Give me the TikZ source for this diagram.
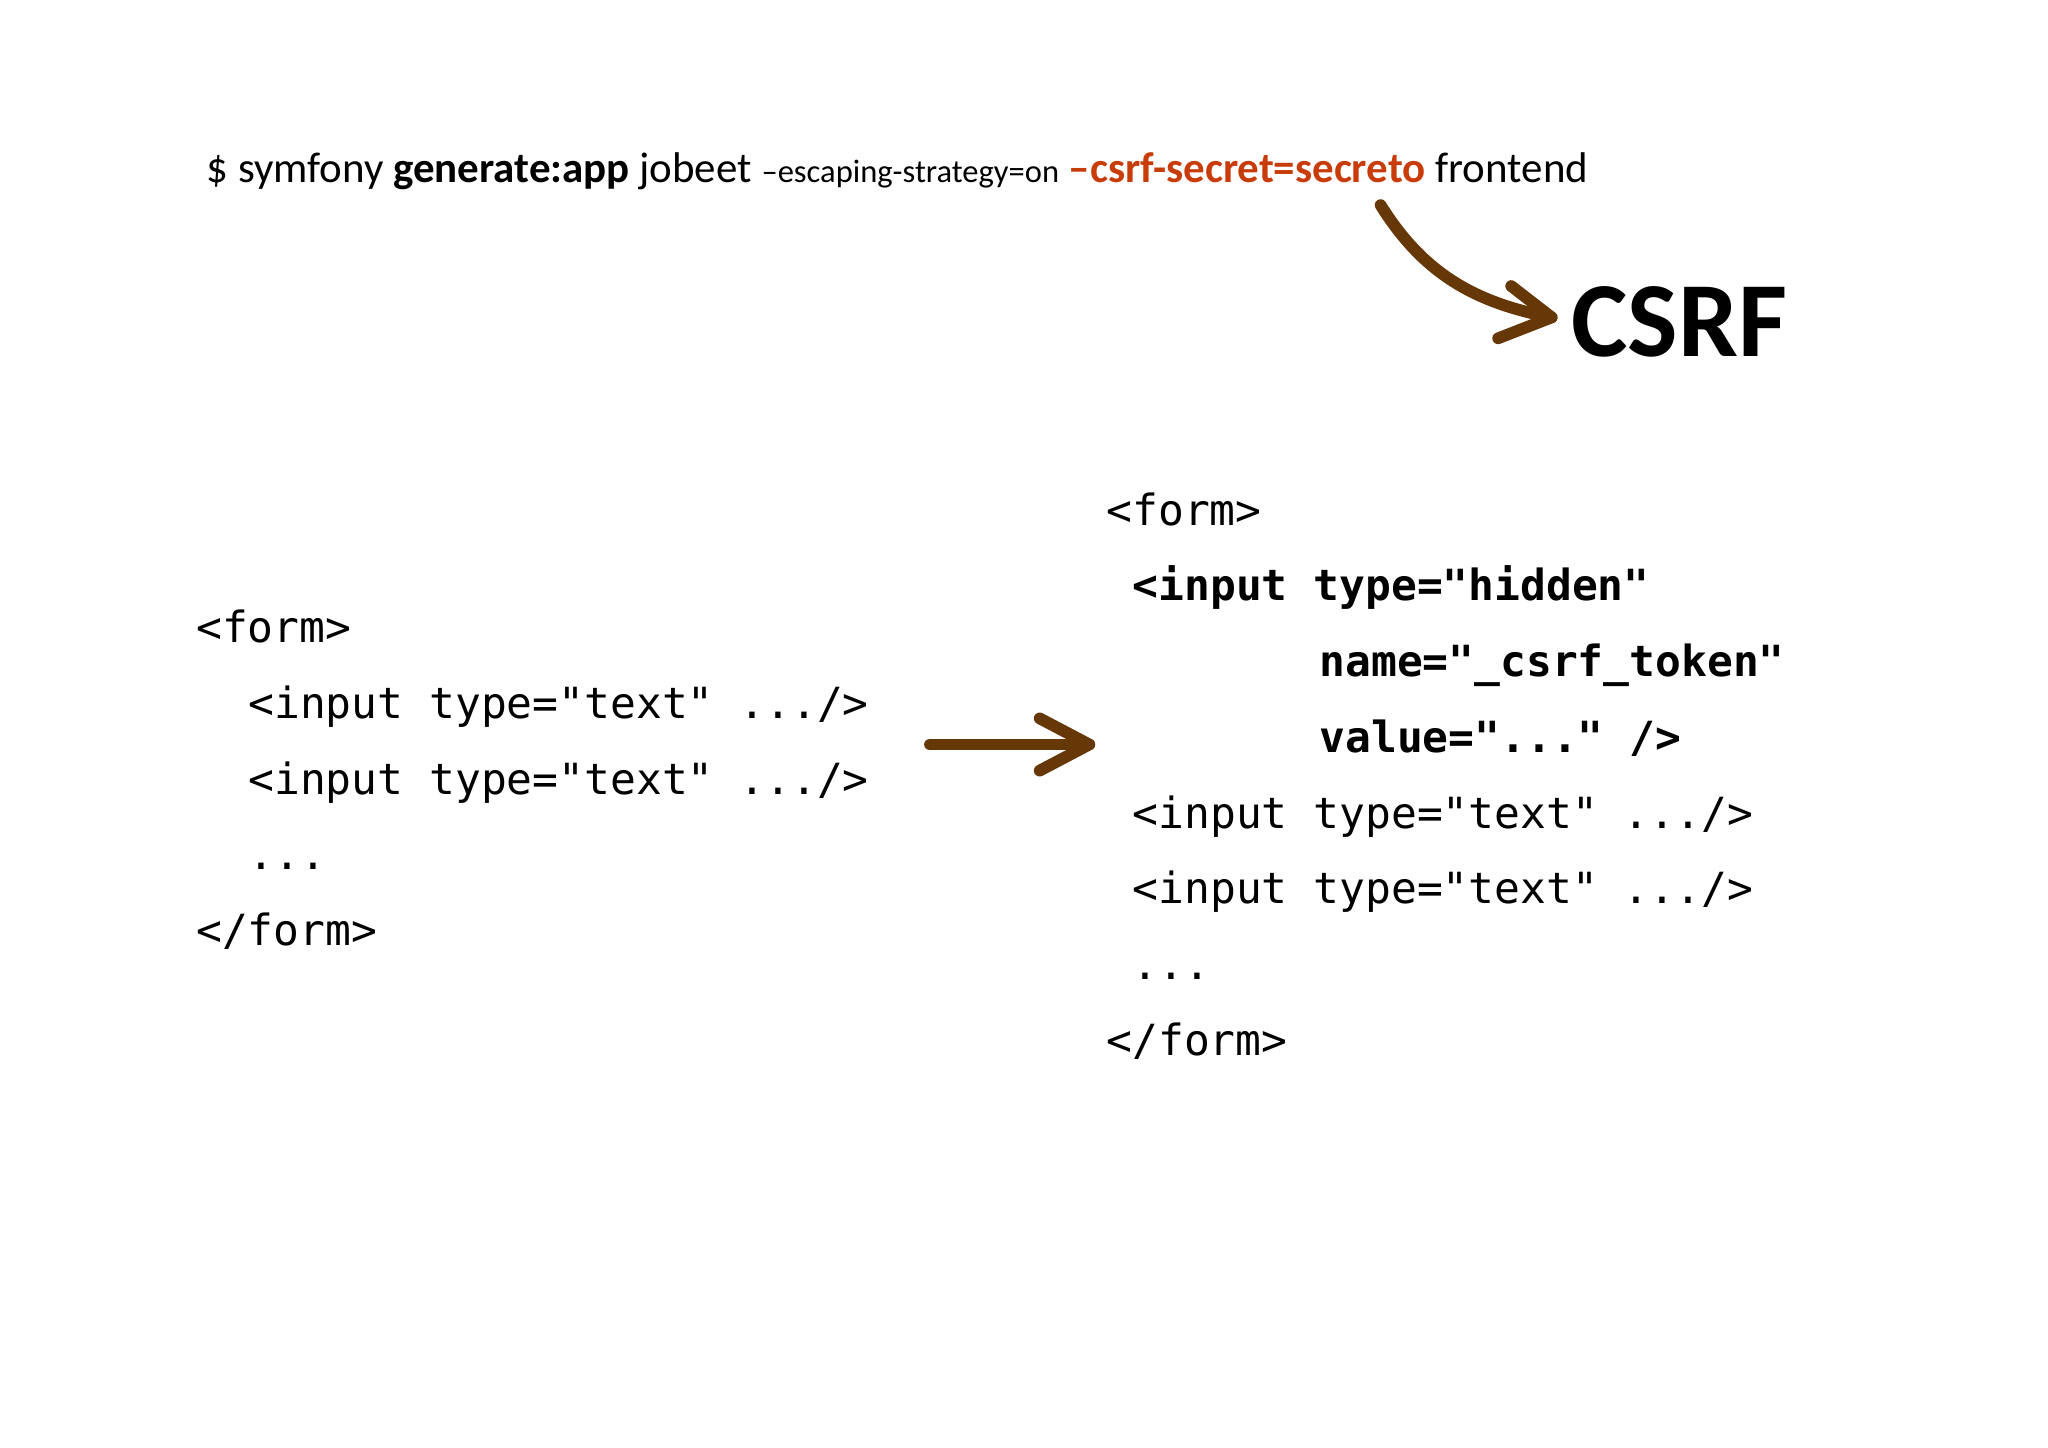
\documentclass[tikz,border=0pt]{standalone}
\usepackage{fontspec}
\setmainfont{Carlito}
\setmonofont{DejaVu Sans Mono}
\usetikzlibrary{arrows.meta}
\definecolor{brn}{RGB}{102,56,8}
\definecolor{org}{RGB}{200,60,10}
\begin{document}
\begin{tikzpicture}[x=1bp,y=-1bp,
  cmd/.style={anchor=base west,inner sep=0pt,font=\fontsize{33}{33}\selectfont},
  code/.style={anchor=base west,inner sep=0pt,font=\fontsize{33}{33}\ttfamily},
  arr/.style={draw=brn,line width=9bp,line cap=round,line join=round}]
\useasboundingbox (0,0) rectangle (1568,1108);
\node[cmd] (cmd) at (158,140) {\$ symfony \textbf{generate:app} jobeet {\fontsize{25}{25}\selectfont --escaping-strategy=on} \textcolor{org}{\textbf{--csrf-secret=secreto}} frontend};
\node[anchor=base west,inner sep=0pt,font=\fontsize{82}{82}\selectfont\bfseries] (csrf) at (1203,273) {CSRF};
\coordinate (c0) at (1057,157);
\coordinate (c1) at (1188,243);
\draw[arr] (c0) .. controls (1090,210) and (1130,232) .. (c1);
\draw[arr] (1157,219) -- (c1) -- (1147,259);
% left code
\node[code] (l1) at (150,492) {<form>};
\node[code] (l2) at (190,550) {<input type="text" .../>};
\node[code] (l3) at (190,608) {<input type="text" .../>};
\node[code] (l4) at (190,666) {...};
\node[code] (l5) at (150,724) {</form>};
% middle arrow
\coordinate (m0) at (712,570);
\coordinate (m1) at (834,570);
\draw[arr] (m0) -- (m1);
\draw[arr] (796,550) -- (m1) -- (796,590);
% right code
\node[code] (r1) at (847,402) {<form>};
\node[code] (r2) at (867,460) {\bfseries <input type="hidden"};
\node[code] (r3) at (1010,518) {\bfseries name="\_csrf\_token"};
\node[code] (r4) at (1010,576) {\bfseries value="..." />};
\node[code] (r5) at (867,634) {<input type="text" .../>};
\node[code] (r6) at (867,692) {<input type="text" .../>};
\node[code] (r7) at (867,750) {...};
\node[code] (r8) at (847,808) {</form>};
\end{tikzpicture}
\end{document}
